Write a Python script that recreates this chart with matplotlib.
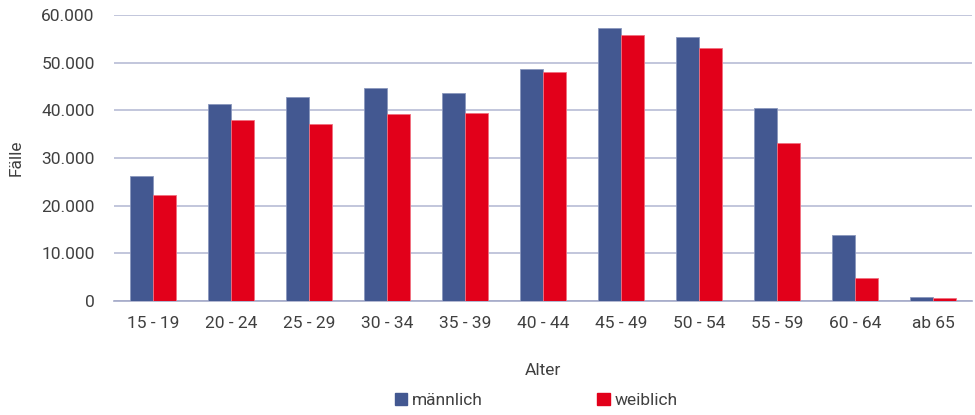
import matplotlib
matplotlib.use("Agg")
import matplotlib.pyplot as plt
import numpy as np
from matplotlib.ticker import FuncFormatter
from matplotlib.patches import Patch

categories = ["15 - 19", "20 - 24", "25 - 29", "30 - 34", "35 - 39", "40 - 44",
              "45 - 49", "50 - 54", "55 - 59", "60 - 64", "ab 65"]
maennlich = [26300, 41300, 42700, 44700, 43600, 48700, 57200, 55400, 40400, 13800, 800]
weiblich = [22200, 37900, 37200, 39200, 39400, 48000, 55800, 53000, 33100, 4800, 600]
series_names = ["männlich", "weiblich"]

plt.rcParams['font.family'] = ['Roboto', 'DejaVu Sans']
text_color = "#404040"
c_m = "#435891"
c_w = "#e2001a"

fig = plt.figure(figsize=(9.75, 4.15), dpi=100)
ax = fig.add_axes([0.117, 0.2747, 0.88, 0.6893])

x = np.arange(len(categories))
w = 0.29
ax.bar(x - w/2, maennlich, w, color=c_m, edgecolor="#8a97bd", linewidth=0.6, zorder=3)
ax.bar(x + w/2, weiblich, w, color=c_w, edgecolor="#f07080", linewidth=0.6, zorder=3)

ax.set_xlim(-0.5, len(categories) - 0.5)
ax.set_ylim(0, 60000)
ax.set_yticks(np.arange(0, 60001, 10000))
ax.yaxis.set_major_formatter(FuncFormatter(lambda v, p: f"{int(v):,}".replace(",", ".")))
ax.grid(axis="y", color="#b7bcd6", linewidth=1.2, zorder=0)
for s in ["top", "right", "left"]:
    ax.spines[s].set_visible(False)
ax.spines["bottom"].set_color("#a4aac8")
ax.spines["bottom"].set_linewidth(1.2)
ax.set_xticks(x)
ax.set_xticklabels(categories)
ax.tick_params(axis="both", length=0, labelsize=12.5, colors=text_color)
ax.tick_params(axis="x", pad=11)
ax.tick_params(axis="y", pad=14)

ax.set_xlabel("Alter", fontsize=12.5, color=text_color, labelpad=23)
ax.set_ylabel("Fälle", fontsize=12.5, color=text_color, labelpad=13)

handles = [Patch(color=c_m), Patch(color=c_w)]
fig.legend(handles, series_names, loc="center", bbox_to_anchor=(0.55, 0.035), ncol=2,
           frameon=False, fontsize=12.5, labelcolor=text_color, columnspacing=6.6,
           handlelength=0.7, handleheight=0.7, handletextpad=0.3)

fig.savefig("out.png", dpi=100)
